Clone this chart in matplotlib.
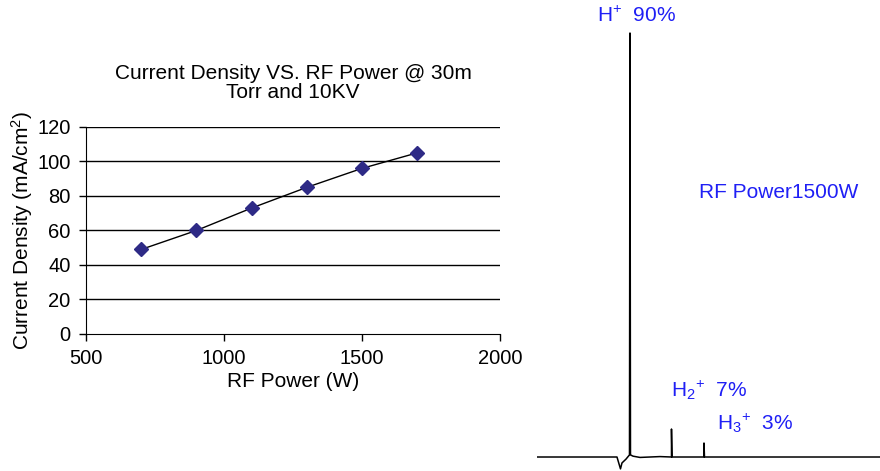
import matplotlib.pyplot as plt
import numpy as np

plt.rcParams['font.family'] = ['Liberation Sans', 'DejaVu Sans']
plt.rcParams['mathtext.fontset'] = 'custom'
plt.rcParams['mathtext.rm'] = 'Liberation Sans'
plt.rcParams['mathtext.it'] = 'Liberation Sans'

# Courbe densité de courant
rf_power = [700, 900, 1100, 1300, 1500, 1700]
current_density = [49, 60, 73, 85, 96, 105]
x_ticks = [500, 1000, 1500, 2000]
y_ticks = [0, 20, 40, 60, 80, 100, 120]

# Spectre (temps de vol, intensité relative en %)
spec_t = [0, 80, 83.5, 85, 89, 92.5, 93, 93.5, 96, 103, 113, 123, 134.5, 134.5, 135,
          167, 167, 167.5, 343]
spec_i = [0, 0, -2.8, -1.4, -0.5, 0.5, 100, 0.5, 0.2, -0.1, 0, 0.1, 0, 6.6, 0,
          0, 3.3, 0, 0]

fig = plt.figure(figsize=(8.8, 4.71), dpi=100)

ax = fig.add_axes([0.0977, 0.2909, 0.4705, 0.4395])
for y in y_ticks[1:]:
    ax.axhline(y, color='black', lw=1, zorder=1)
ax.plot(rf_power, current_density, color='black', lw=1, zorder=2)
ax.plot(rf_power, current_density, 'D', color='#2e2a86', ms=7, zorder=3)
ax.set_xlim(500, 2000)
ax.set_ylim(0, 120)
ax.set_xticks(x_ticks)
ax.set_yticks(y_ticks)
ax.tick_params(axis='both', labelsize=14.5, length=5, width=1, color='black')
ax.tick_params(axis='x', pad=6)
ax.tick_params(axis='y', pad=6)
ax.spines['right'].set_visible(False)
ax.spines['top'].set_visible(False)
ax.set_xlabel('RF Power (W)', fontsize=15, labelpad=3)
ax.set_ylabel('Current Density (mA/cm$^2$)', fontsize=15, labelpad=2)
ax.set_title('Current Density VS. RF Power @ 30m\nTorr and 10KV', fontsize=15,
             pad=21, linespacing=1.0)

ax2 = fig.add_axes([0.6102, 0, 0.3898, 1])
ax2.plot(spec_t, spec_i, color='black', lw=1.1)
ax2.set_xlim(0, 343)
ax2.set_ylim(-3.30, 107.78)
ax2.axis('off')

blue = '#1f1ff5'
fig.text(0.678, 0.953, r'H$^{+}$  90%', color=blue, fontsize=15, va='baseline')
fig.text(0.7947, 0.580, 'RF Power1500W', color=blue, fontsize=15, va='baseline')
fig.text(0.763, 0.157, r'H$_2$$^{+}$  7%', color=blue, fontsize=15, va='baseline')
fig.text(0.8144, 0.087, r'H$_3$$^{+}$  3%', color=blue, fontsize=15, va='baseline')

plt.savefig('out.png', dpi=100)
